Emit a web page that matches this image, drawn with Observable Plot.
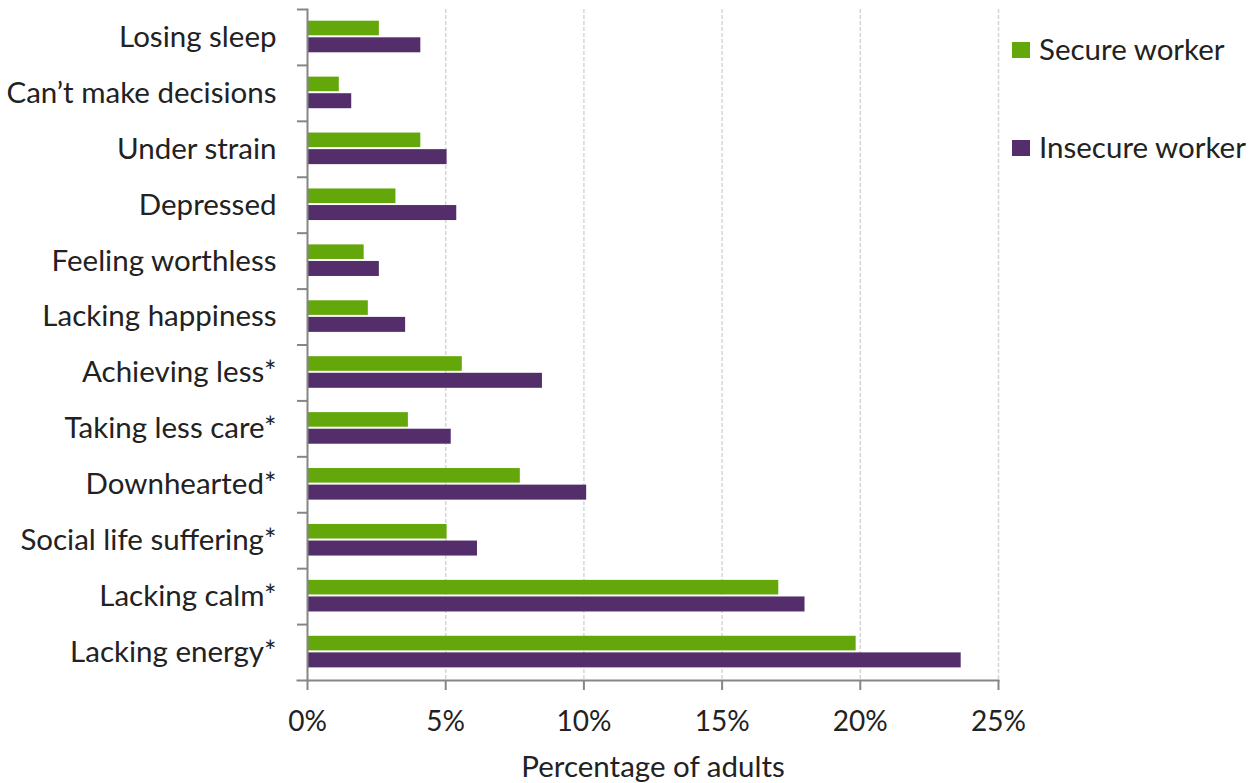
<!DOCTYPE html>
<html>
<head>
<meta charset="utf-8">
<script src="https://cdn.jsdelivr.net/npm/d3@7"></script>
<script src="https://cdn.jsdelivr.net/npm/@observablehq/plot@0.6"></script>
<style>
  html, body { margin: 0; padding: 0; background: #fff; }
  #wrap { position: relative; width: 1250px; height: 783px; font-family: Lato, "Noto Sans", sans-serif; color: #222; }
  .legend { position: absolute; left: 1012px; font-size: 29.5px; line-height: 1; white-space: nowrap; }
  .legend .sw { display: inline-block; width: 18px; height: 16px; margin-right: 9px; vertical-align: 2px; }
</style>
</head>
<body>
<div id="wrap"></div>
<script>
// Share of adults reporting each symptom, by job security
const categories = [
  "Losing sleep", "Can’t make decisions", "Under strain", "Depressed",
  "Feeling worthless", "Lacking happiness", "Achieving less*", "Taking less care*",
  "Downhearted*", "Social life suffering*", "Lacking calm*", "Lacking energy*"
];
const secureValues   = [2.6, 1.15, 4.1, 3.2, 2.05, 2.2, 5.6, 3.65, 7.7, 5.05, 17.05, 19.85];
const insecureValues = [4.1, 1.6, 5.05, 5.4, 2.6, 3.55, 8.5, 5.2, 10.1, 6.15, 18.0, 23.65];
const seriesNames = ["Secure worker", "Insecure worker"];
const seriesColors = ["#64a70b", "#532e6b"];
const xTicks = [0, 5, 10, 15, 20, 25];
const xLabel = "Percentage of adults";

const width = 1250, height = 783;
const marginTop = 9, marginBottom = 103, marginLeft = 307, marginRight = 252;
const step = (height - marginTop - marginBottom) / categories.length;

const secureRows = categories.map((c, i) => ({category: c, value: secureValues[i]}));
const insecureRows = categories.map((c, i) => ({category: c, value: insecureValues[i]}));

const axisColor = "#868686";
const labelSize = 29.5;

const chart = Plot.plot({
  width, height, marginTop, marginBottom, marginLeft, marginRight,
  style: {fontFamily: "Lato, 'Noto Sans', sans-serif", fontSize: labelSize + "px", color: "#222", background: "#fff"},
  x: {domain: [0, 25], ticks: xTicks},
  y: {domain: categories, padding: 0, round: false},
  marks: [
    // dashed vertical gridlines
    Plot.ruleX(xTicks.filter(t => t > 0), {stroke: "#d6d6d6", strokeWidth: 1.5, strokeDasharray: "4,2"}),
    // paired bars within each category band
    Plot.barX(secureRows, {x: "value", y: "category", fill: seriesColors[0], insetTop: 11.7, insetBottom: step - 26.3}),
    Plot.barX(insecureRows, {x: "value", y: "category", fill: seriesColors[1], insetTop: 28.3, insetBottom: step - 43.3}),
    // axis lines
    Plot.frame({anchor: "left", stroke: axisColor, strokeWidth: 2}),
    Plot.frame({anchor: "bottom", stroke: axisColor, strokeWidth: 2, insetLeft: -10}),
    // category boundary ticks
    Plot.axisY({tickSize: 10, fill: "none", stroke: axisColor, strokeWidth: 2, dy: -step / 2, label: null}),
    // category labels
    Plot.axisY({tickSize: 0, tickPadding: 31, label: null}),
    // x axis ticks and labels
    Plot.axisX(xTicks, {tickSize: 10, tickPadding: 21, fontSize: 28, stroke: axisColor, strokeWidth: 2, tickFormat: d => d + "%", label: null}),
    Plot.text([xLabel], {text: d => d, frameAnchor: "bottom", dy: 87, lineAnchor: "middle", fill: "#222"})
  ]
});

const wrap = document.getElementById("wrap");
wrap.appendChild(chart);

// legend
const legendTops = [34, 132];
seriesNames.forEach((name, i) => {
  const div = document.createElement("div");
  div.className = "legend";
  div.style.top = legendTops[i] + "px";
  const sw = document.createElement("span");
  sw.className = "sw";
  sw.style.background = seriesColors[i];
  div.appendChild(sw);
  div.appendChild(document.createTextNode(name));
  wrap.appendChild(div);
});
</script>
</body>
</html>
